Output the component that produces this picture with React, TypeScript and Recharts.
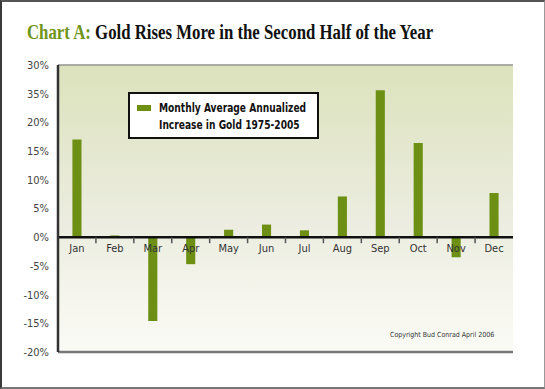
import { Bar, BarChart, CartesianGrid, ReferenceLine, XAxis, YAxis } from "recharts";

const months = ["Jan", "Feb", "Mar", "Apr", "May", "Jun", "Jul", "Aug", "Sep", "Oct", "Nov", "Dec"];
const goldIncrease = [17.0, 0.3, -14.6, -4.7, 1.3, 2.2, 1.2, 7.1, 25.6, 16.4, -3.5, 7.7];
const yTicks = [-20, -15, -10, -5, 0, 5, 10, 15, 20, 25, 30];
const yTickLabels = ["-20%", "-15%", "-10%", "-5%", "0%", "5%", "10%", "15%", "20%", "35%", "30%"];
const seriesName = "Monthly Average Annualized Increase in Gold 1975-2005";

const data = months.map((month, i) => ({ month, value: goldIncrease[i] }));

const W = 545;
const H = 389;
const TOP = 65;
const LEFT = 58;
const RIGHT = 32;
const BOTTOM = 37;
const PLOT_H = H - TOP - BOTTOM;
const PLOT_W = W - LEFT - RIGHT;
const Y_MIN = -20;
const Y_MAX = 30;
const GREEN = "#6c8f14";

function MonthTick(props: any) {
  const { x, payload, index } = props;
  const zeroY = TOP + (Y_MAX / (Y_MAX - Y_MIN)) * PLOT_H;
  const band = PLOT_W / months.length;
  return (
    <g>
      {index > 0 && (
        <line x1={x - band / 2} x2={x - band / 2} y1={zeroY} y2={zeroY + 6} stroke="#555" strokeWidth={1.5} />
      )}
      <text
        x={x}
        y={zeroY + 15}
        textAnchor="middle"
        fontSize={11}
        fill="#333"
        style={{ fontFamily: "'DejaVu Sans Condensed', 'DejaVu Sans', sans-serif" }}
      >
        {payload.value}
      </text>
    </g>
  );
}

export default function App() {
  return (
    <div
      style={{
        position: "absolute",
        left: 0,
        top: 0,
        width: W,
        height: H,
        background: "#fff",
        boxSizing: "border-box",
        borderLeft: "2px solid #3a3a3a",
        borderTop: "2px solid #555",
        borderRight: "1px solid #999",
        borderBottom: "2px solid #777",
        overflow: "hidden",
      }}
    >
      <svg width={W} height={60} style={{ position: "absolute", left: -2, top: -2 }}>
        <g transform="translate(27,39) scale(0.8,1)">
          <text x={0} y={0} fontSize={21} fontWeight="bold" style={{ fontFamily: "'Liberation Serif', serif" }}>
            <tspan fill="#6f951b">Chart A: </tspan>
            <tspan fill="#111">Gold Rises More in the Second Half of the Year</tspan>
          </text>
        </g>
      </svg>
      <div style={{ position: "absolute", left: -2, top: -2 }}>
        <BarChart
          width={W}
          height={H}
          data={data}
          margin={{ top: TOP, left: 8, right: RIGHT, bottom: BOTTOM - 1 }}
          barCategoryGap="62%"
        >
          <defs>
            <linearGradient id="plotBg" x1="0" y1="0" x2="0" y2="1">
              <stop offset="0%" stopColor="#dce2bc" />
              <stop offset="55%" stopColor="#ecede0" />
              <stop offset="100%" stopColor="#fbfbf6" />
            </linearGradient>
          </defs>
          <CartesianGrid vertical={false} fill="url(#plotBg)" stroke="#a8a89e" strokeWidth={1.5} />
          <XAxis
            dataKey="month"
            height={1}
            axisLine={false}
            tickLine={false}
            tick={MonthTick}
            interval={0}
          />
          <YAxis
            yAxisId="left"
            width={50}
            domain={[Y_MIN, Y_MAX]}
            ticks={yTicks}
            tickFormatter={(v: number) => yTickLabels[yTicks.indexOf(v)]}
            axisLine={{ stroke: "#333", strokeWidth: 2.5 }}
            tickLine={false}
            tickSize={0}
            tickMargin={9}
            tick={{ fontSize: 11, fill: "#444", fontFamily: "'DejaVu Sans Condensed', 'DejaVu Sans', sans-serif" }}
          />
          <YAxis
            yAxisId="right"
            orientation="right"
            width={0}
            domain={[Y_MIN, Y_MAX]}
            tick={false}
            axisLine={{ stroke: "#666", strokeWidth: 2 }}
            tickLine={false}
          />
          <ReferenceLine yAxisId="left" y={Y_MAX} stroke="#999" strokeWidth={1} />
          <ReferenceLine yAxisId="left" y={Y_MIN} stroke="#777" strokeWidth={2.5} />
          <Bar yAxisId="left" dataKey="value" name={seriesName} fill={GREEN} isAnimationActive={false} />
          <ReferenceLine yAxisId="left" y={0} stroke="#111" strokeWidth={2.5} />
        </BarChart>
      </div>
      <div
        style={{
          position: "absolute",
          left: 126,
          top: 90,
          width: 191,
          height: 47,
          boxSizing: "border-box",
          background: "#fff",
          border: "2px solid #111",
          padding: "5px 4px 4px 7px",
          display: "flex",
          alignItems: "flex-start",
          fontFamily: "'DejaVu Sans Condensed', 'DejaVu Sans', sans-serif",
          fontWeight: "bold",
          fontSize: 12.5,
          lineHeight: "17px",
          color: "#111",
          overflow: "hidden",
        }}
      >
        <span style={{ display: "inline-block", flex: "none", width: 14, height: 6, background: GREEN, marginTop: 6, marginRight: 8 }} />
        <span style={{ whiteSpace: "nowrap", display: "inline-block", transform: "scaleX(0.81)", transformOrigin: "left top" }}>
          Monthly Average Annualized
          <br />
          Increase in Gold 1975-2005
        </span>
      </div>
      <div
        style={{
          position: "absolute",
          left: 388,
          top: 329,
          fontSize: 7,
          color: "#333",
          fontFamily: "'DejaVu Sans Condensed', 'DejaVu Sans', sans-serif",
        }}
      >
        Copyright Bud Conrad April 2006
      </div>
    </div>
  );
}
